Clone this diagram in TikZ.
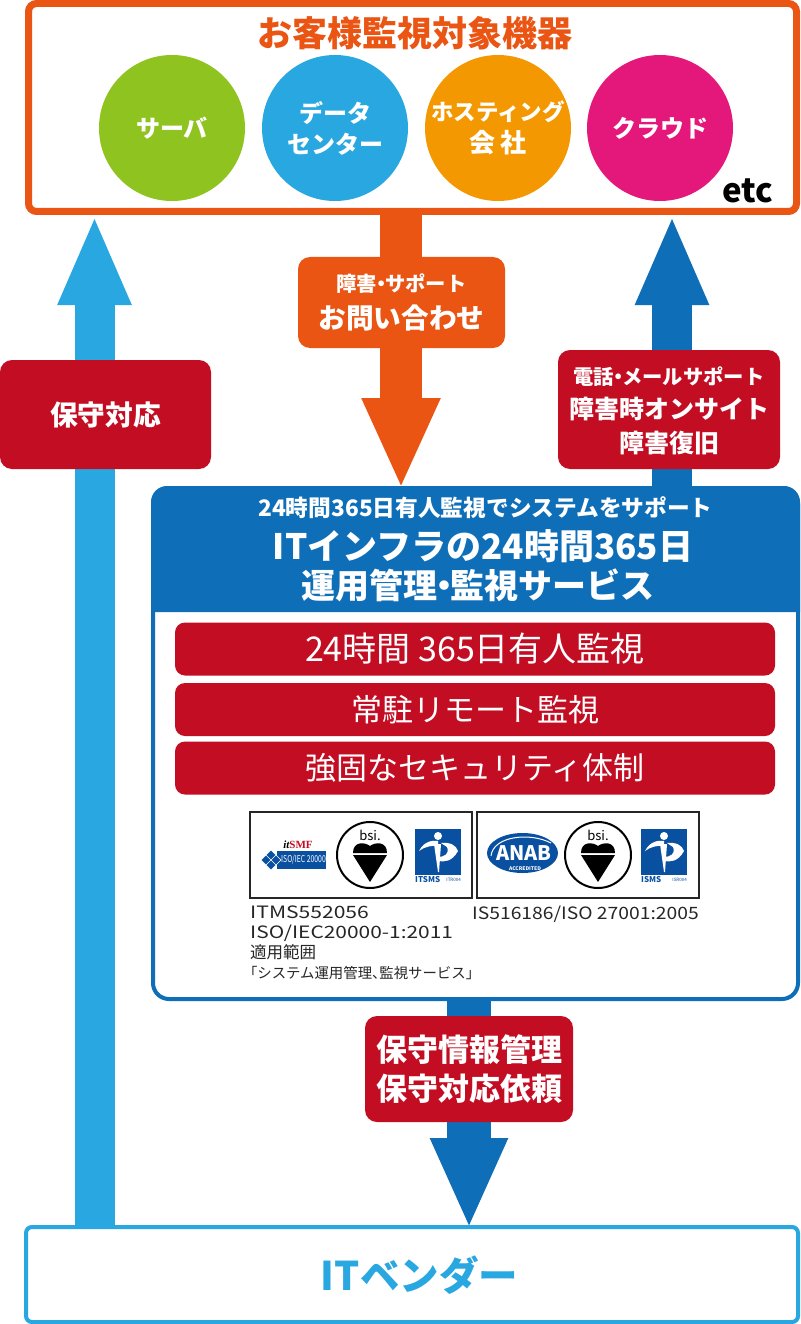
\documentclass[tikz,border=0pt]{standalone}
\usepackage{fontspec}
\usepackage{graphicx}
\setmainfont{Noto Sans CJK JP}
\newfontfamily\heavyfont{Noto Sans CJK JP Black}
\newfontfamily\serifmark{Liberation Serif}
\usetikzlibrary{arrows.meta, shapes.geometric}
\definecolor{orangeC}{HTML}{EA5514}
\definecolor{redC}{HTML}{C30D23}
\definecolor{cyanC}{HTML}{29A7E1}
\definecolor{blueC}{HTML}{0F6EB8}
\definecolor{greenC}{HTML}{8FC31F}
\definecolor{amberC}{HTML}{F39800}
\definecolor{pinkC}{HTML}{E4187A}
\definecolor{isoblue}{HTML}{0A50A1}
\tikzset{
  disc/.style={circle, minimum size=146pt, inner sep=0pt, align=center, text=white, font=\bfseries\fontsize{24}{31}\selectfont},
  redbox/.style={fill=redC, rounded corners=12pt, text=white, align=center, inner sep=0pt, font=\bfseries},
  redbar/.style={fill=redC, rounded corners=10pt, text=white, minimum width=600pt, minimum height=53pt, inner sep=0pt, font=\fontsize{31}{31}\selectfont},
  logobox/.style={draw=black!85, line width=1.3pt, minimum width=222pt, minimum height=86pt, inner sep=0pt},
  block/.style={line width=#1},
}
\begin{document}
\begin{tikzpicture}[x=1pt, y=-1pt]
  \useasboundingbox (0,0) rectangle (800,1324);
  % arrows
  \coordinate (leftfoot) at (94.5,1227);
  \coordinate (lefttip) at (94.5,215);
  \coordinate (midfoot) at (401,214);
  \coordinate (midtip) at (401,489);
  \coordinate (rightfoot) at (672,490);
  \coordinate (righttip) at (672,215);
  \coordinate (lowfoot) at (469,998);
  \coordinate (lowtip) at (469,1229);
  \draw[cyanC, block=40pt, -{Triangle[length=90pt, width=67pt]}] (leftfoot) -- (lefttip);
  \draw[orangeC, block=42pt, -{Triangle[length=91pt, width=72pt]}] (midfoot) -- (midtip);
  \draw[blueC, block=40pt, -{Triangle[length=90pt, width=67pt]}] (rightfoot) -- (righttip);
  \draw[blueC, block=44pt, -{Triangle[length=91pt, width=71pt]}] (lowfoot) -- (lowtip);
  % customer box
  \node[draw=orangeC, line width=7pt, rounded corners=8pt, minimum width=768pt, minimum height=208pt, inner sep=0pt] (customer) at (412.5,107.5) {};
  \node[text=orangeC, font=\heavyfont\fontsize{35}{35}\selectfont] (customertitle) at (415,33) {お客様監視対象機器};
  \node[disc, fill=greenC] (server) at (172,128) {サーバ};
  \node[disc, fill=cyanC] (datacenter) at (335,128) {データ\\センター};
  \node[disc, fill=amberC] (hosting) at (498,128) {\makebox[0pt]{\fontsize{22.5}{33}\selectfont ホスティング}\\[1pt]\makebox[0pt]{\fontsize{26}{33}\selectfont 会 社}};
  \node[disc, fill=pinkC] (cloud) at (660,128) {クラウド};
  \node[font=\heavyfont\fontsize{33}{33}\selectfont] (etc) at (748,191) {etc};
  % labels on the arrows
  \node[redbox, minimum width=211pt, minimum height=109pt, font=\bfseries\fontsize{27.7}{27.7}\selectfont] (maintain) at (105.5,414.5) {保守対応};
  \node[fill=orangeC, rounded corners=12pt, text=white, minimum width=207pt, minimum height=91pt, inner sep=0pt, align=center] (inquiry) at (401.5,302.5) {{\bfseries\fontsize{20.3}{28}\selectfont 障害{\kern-.3em}・{\kern-.3em}サポート}\\[11pt]{\bfseries\fontsize{27.7}{30}\selectfont お問い合わせ}};
  \node[redbox, minimum width=222pt, minimum height=119pt] (support) at (669,409.5) {};
  \node[text=white, align=center, inner sep=0pt, font=\bfseries] (supporttext) at (669,411) {{\fontsize{20.3}{32}\selectfont 電話{\kern-.3em}・{\kern-.3em}メールサポート}\\[10pt]{\fontsize{25}{32}\selectfont 障害時オンサイト}\\[9pt]{\fontsize{25}{32}\selectfont 障害復旧}};
  \node[redbox, minimum width=208pt, minimum height=106pt, font=\bfseries\fontsize{31}{39}\selectfont] (request) at (469,1069) {保守情報管理\\保守対応依頼};
  % service panel
  \node[draw=blueC, fill=white, line width=4pt, rounded corners=16pt, minimum width=645pt, minimum height=511pt, inner sep=0pt] (panel) at (475.5,743.5) {};
  \fill[blueC] [sharp corners] (151,612) [rounded corners=16pt] -- (151,486) -- (800,486) [sharp corners] -- (800,612) -- cycle;
  \node[text=white, font=\bfseries\fontsize{22.7}{22.7}\selectfont] (paneltop) at (485.5,508) {24時間365日有人監視でシステムをサポート};
  \node[text=white, font=\bfseries\fontsize{35}{35}\selectfont] (paneltitle) at (483,546) {ITインフラの24時間365日};
  \node[text=white, font=\bfseries\fontsize{34}{34}\selectfont] (paneltitleb) at (478,585) {運用管理{\kern-.3em}・{\kern-.3em}監視サービス};
  \node[redbar] (bar1) at (475,649) {\fontsize{34}{34}\selectfont 24時間 365日有人監視};
  \node[redbar] (bar2) at (475,709.5) {常駐リモート監視};
  \node[redbar] (bar3) at (475,768) {強固なセキュリティ体制};
  % certificates
  \node[logobox] (cert1) at (361,855) {};
  \node[logobox] (cert2) at (588,855) {};
  % itSMF
  \node[text=redC, font=\serifmark\bfseries\fontsize{11}{11}\selectfont, inner sep=0pt] (itsmf) at (298,845) {\textcolor{black}{\itshape it}SMF};
  \fill[isoblue] (277,851) rectangle (326,869);
  \filldraw[fill=isoblue, draw=white, line width=.6pt] (261,860) -- (271,850) -- (281,860) -- (271,870) -- cycle;
  \draw[white, line width=.5pt] (266,855) -- (276,865) (266,865) -- (276,855);
  \node[text=white, font=\fontsize{9.5}{9.5}\selectfont, inner sep=0pt] (isoiec) at (303.5,860) {\scalebox{.72}[1]{ISO/IEC 20000}};
  % bsi marks
  \foreach \cx/\nm in {370/a, 598/b} {
    \draw[black, line width=2pt] (\cx,855) circle (33pt);
    \node[font=\fontsize{13}{13}\selectfont, inner sep=0pt] (bsi\nm) at (\cx,835) {bsi.};
    \fill[black] (\cx,846) .. controls (\cx-5,842) and (\cx-17,841) .. (\cx-17,853) -- (\cx+17,853) .. controls (\cx+17,841) and (\cx+5,842) .. (\cx,846) -- cycle;
    \fill[black] (\cx-17,855) -- (\cx+17,855) -- (\cx,882) -- cycle;
  }
  % SI marks
  \foreach \sx/\sname/\snum in {438/ITSMS/ITR004, 664/ISMS/ISR004} {
    \fill[isoblue] (\sx-23,829) rectangle (\sx+23,875);
    \fill[white] (\sx-19,851) .. controls (\sx-14,841) and (\sx-5,840) .. (\sx,841) -- (\sx,846) .. controls (\sx-6,845) and (\sx-14,847) .. (\sx-19,851) -- cycle;
    \fill[white] (\sx+20,851) .. controls (\sx+14,862) and (\sx+6,862) .. (\sx,861) -- (\sx,857) .. controls (\sx+6,857) and (\sx+12,854) .. (\sx+9,847) -- (\sx+3,843) .. controls (\sx+12,842) and (\sx+18,845) .. (\sx+20,851) -- cycle;
    \fill[white] (\sx,836) circle (4pt);
    \fill[white] (\sx-4,844) -- (\sx+3,844) -- (\sx+1,872) -- (\sx,872) -- cycle;
    \node[text=isoblue, font=\heavyfont\fontsize{8}{8}\selectfont, inner sep=0pt, anchor=west] at (\sx-23,880) {\sname};
    \node[text=isoblue, font=\fontsize{4.5}{4.5}\selectfont, inner sep=0pt, anchor=east] at (\sx+23,880) {\snum};
  }
  % ANAB
  \node[ellipse, fill=isoblue, minimum width=71pt, minimum height=40pt, inner sep=0pt] (anab) at (522.5,853) {};
  \draw[white, line width=1pt] (491,856) .. controls (493,836) and (530,832) .. (551,843);
  \node[text=white, font=\bfseries\itshape\fontsize{20}{20}\selectfont, inner sep=0pt] (anabtext) at (524,853) {ANAB};
  \node[text=white, font=\bfseries\fontsize{5}{5}\selectfont, inner sep=0pt] (anabsub) at (525,869) {ACCREDITED};
  % certificate notes
  \node[anchor=north west, inner sep=0pt, align=left, text=black!85, font=\fontsize{17}{20}\selectfont] (note1) at (250,906) {\scalebox{1.24}[1]{ITMS552056}\\\scalebox{1.23}[1]{ISO/IEC20000-1:2011}\\{\fontsize{16.5}{20}\selectfont 適用範囲}\\{\fontsize{14.4}{20}\selectfont {\kern-.5em}「システム運用管理、{\kern-.5em}監視サービス」}};
  \node[anchor=north west, inner sep=0pt, text=black!85, font=\fontsize{17}{20}\selectfont] (note2) at (472,906) {\scalebox{1.135}[1]{IS516186/ISO 27001:2005}};
  % vendor
  \node[draw=cyanC, fill=white, line width=4pt, rounded corners=6pt, minimum width=772pt, minimum height=95pt, inner sep=0pt] (vendor) at (412,1274.5) {};
  \node[text=cyanC, font=\heavyfont\fontsize{39.5}{39.5}\selectfont] (vendortext) at (419.5,1275) {ITベンダー};
\end{tikzpicture}
\end{document}
